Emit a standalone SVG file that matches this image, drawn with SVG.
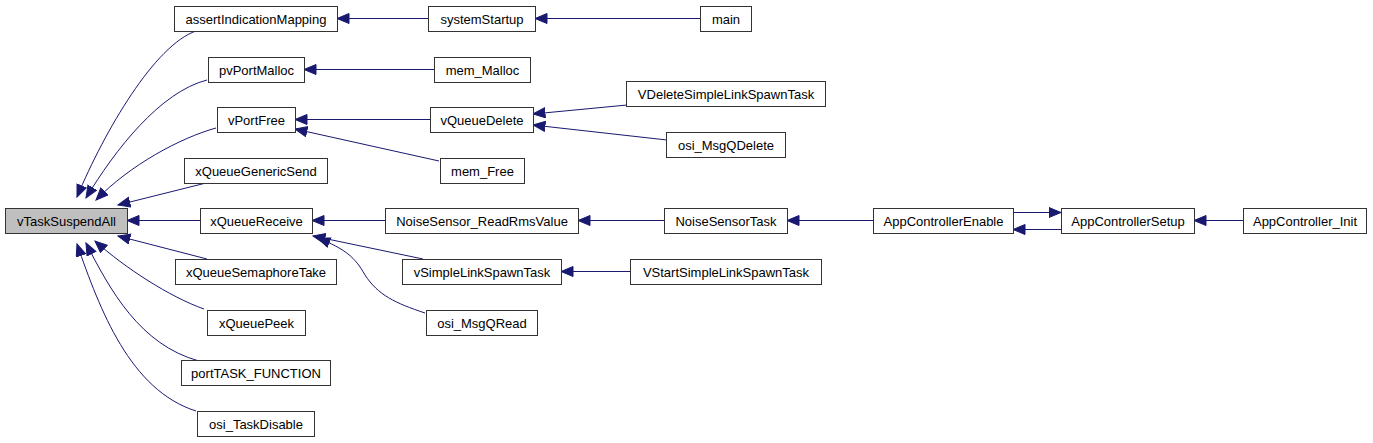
<svg xmlns="http://www.w3.org/2000/svg" width="1373" height="443" viewBox="0 0 1373 443">
<style>
.n rect{fill:#fff;stroke:#333;stroke-width:1}
.n.h rect{fill:#bfbfbf}
.n text{font-family:"Liberation Sans",Arial,sans-serif;font-size:13px;fill:#000;text-anchor:middle}
.e path{fill:none;stroke:#191970;stroke-width:1;marker-end:url(#a)}
</style>
<defs>
<marker id="a" markerWidth="14" markerHeight="12" refX="12.5" refY="5.5" orient="auto" markerUnits="userSpaceOnUse">
<path d="M0.5,0.5 L12.5,5.5 L0.5,10.5 z" fill="#191970" stroke="#191970" stroke-width="1"/>
</marker>
</defs>
<rect width="1373" height="443" fill="#fff"/>
<g id="connectors" class="e">
<path d="M196,31 C155,45 105,130 77,197"/>
<path d="M207,80 C160,92 115,150 86,198"/>
<path d="M216,128 C180,138 130,165 96,200"/>
<path d="M206,183 L118,205"/>
<path d="M200,220.5 L127,220.5"/>
<path d="M207,259 L118,236"/>
<path d="M204,309 C170,297 125,268 95,241"/>
<path d="M199,361 C140,345 110,290 86,243"/>
<path d="M196,411 C130,390 100,310 77,244"/>
<path d="M428,18.5 L337,18.5"/>
<path d="M700,18.5 L535,18.5"/>
<path d="M434,69.5 L304,69.5"/>
<path d="M430,119.5 L295,119.5"/>
<path d="M439,161 L295,129"/>
<path d="M627,105 L533,114"/>
<path d="M667,140 L533,125"/>
<path d="M385,220.5 L312,220.5"/>
<path d="M423,259 L313,236"/>
<path d="M425,313 C395,303 378,295 365,275 C355,257 345,249 318,238"/>
<path d="M664,220.5 L578,220.5"/>
<path d="M873,220.5 L787,220.5"/>
<path d="M630,271.5 L561,271.5"/>
<path d="M1013,212.5 L1061,212.5"/>
<path d="M1061,229.5 L1013,229.5"/>
<path d="M1243,220.5 L1194,220.5"/>
</g>
<g id="vTaskSuspendAll" class="n h"><rect x="5.5" y="208.5" width="122" height="25"/><text x="66.5" y="225.5">vTaskSuspendAll</text></g>
<g id="assertIndicationMapping" class="n"><rect x="174.5" y="6.5" width="163" height="25"/><text x="256" y="23.5">assertIndicationMapping</text></g>
<g id="pvPortMalloc" class="n"><rect x="208.5" y="57.5" width="96" height="25"/><text x="256.5" y="74.5">pvPortMalloc</text></g>
<g id="vPortFree" class="n"><rect x="217.5" y="107.5" width="78" height="25"/><text x="256.5" y="124.5">vPortFree</text></g>
<g id="xQueueGenericSend" class="n"><rect x="184.5" y="158.5" width="143" height="25"/><text x="256" y="175.5">xQueueGenericSend</text></g>
<g id="xQueueReceive" class="n"><rect x="200.5" y="208.5" width="112" height="25"/><text x="256.5" y="225.5">xQueueReceive</text></g>
<g id="xQueueSemaphoreTake" class="n"><rect x="175.5" y="259.5" width="161" height="25"/><text x="256" y="276.5">xQueueSemaphoreTake</text></g>
<g id="xQueuePeek" class="n"><rect x="207.5" y="310.5" width="98" height="25"/><text x="256.5" y="327.5">xQueuePeek</text></g>
<g id="portTASK_FUNCTION" class="n"><rect x="181.5" y="360.5" width="149" height="25"/><text x="256" y="377.5">portTASK_FUNCTION</text></g>
<g id="osi_TaskDisable" class="n"><rect x="197.5" y="411.5" width="117" height="25"/><text x="256" y="428.5">osi_TaskDisable</text></g>
<g id="systemStartup" class="n"><rect x="428.5" y="6.5" width="107" height="25"/><text x="482" y="23.5">systemStartup</text></g>
<g id="main" class="n"><rect x="700.5" y="6.5" width="51" height="25"/><text x="726" y="23.5">main</text></g>
<g id="mem_Malloc" class="n"><rect x="434.5" y="57.5" width="96" height="25"/><text x="482.5" y="74.5">mem_Malloc</text></g>
<g id="vQueueDelete" class="n"><rect x="430.5" y="107.5" width="103" height="25"/><text x="482" y="124.5">vQueueDelete</text></g>
<g id="mem_Free" class="n"><rect x="440.5" y="158.5" width="84" height="25"/><text x="482.5" y="175.5">mem_Free</text></g>
<g id="VDeleteSimpleLinkSpawnTask" class="n"><rect x="626.5" y="81.5" width="199" height="25"/><text x="726" y="98.5">VDeleteSimpleLinkSpawnTask</text></g>
<g id="osi_MsgQDelete" class="n"><rect x="666.5" y="132.5" width="119" height="25"/><text x="726" y="149.5">osi_MsgQDelete</text></g>
<g id="NoiseSensor_ReadRmsValue" class="n"><rect x="385.5" y="208.5" width="193" height="25"/><text x="482" y="225.5">NoiseSensor_ReadRmsValue</text></g>
<g id="vSimpleLinkSpawnTask" class="n"><rect x="402.5" y="259.5" width="159" height="25"/><text x="482" y="276.5">vSimpleLinkSpawnTask</text></g>
<g id="osi_MsgQRead" class="n"><rect x="426.5" y="310.5" width="111" height="25"/><text x="482" y="327.5">osi_MsgQRead</text></g>
<g id="NoiseSensorTask" class="n"><rect x="664.5" y="208.5" width="123" height="25"/><text x="726" y="225.5">NoiseSensorTask</text></g>
<g id="VStartSimpleLinkSpawnTask" class="n"><rect x="630.5" y="259.5" width="191" height="25"/><text x="726" y="276.5">VStartSimpleLinkSpawnTask</text></g>
<g id="AppControllerEnable" class="n"><rect x="873.5" y="208.5" width="140" height="25"/><text x="943.5" y="225.5">AppControllerEnable</text></g>
<g id="AppControllerSetup" class="n"><rect x="1061.5" y="208.5" width="133" height="25"/><text x="1128" y="225.5">AppControllerSetup</text></g>
<g id="AppController_Init" class="n"><rect x="1243.5" y="208.5" width="123" height="25"/><text x="1305" y="225.5">AppController_Init</text></g>
</svg>
